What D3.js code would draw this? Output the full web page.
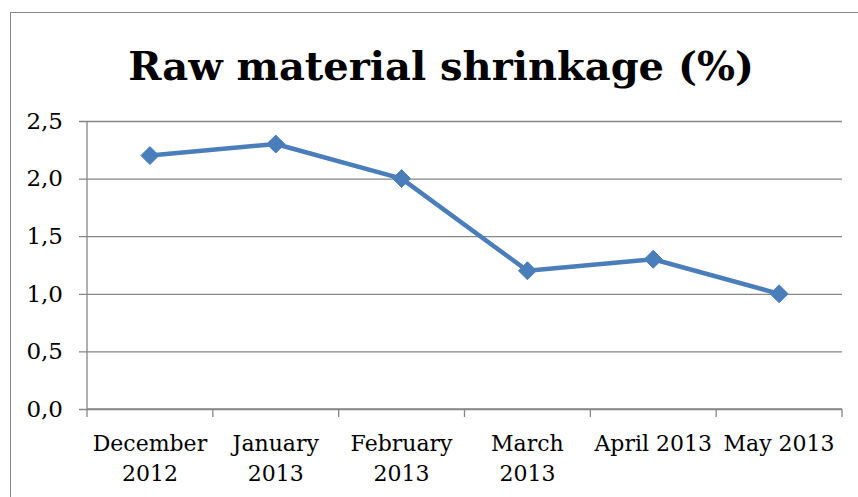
<!DOCTYPE html>
<html>
<head>
<meta charset="utf-8">
<script src="https://cdn.jsdelivr.net/npm/d3@7"></script>
<style>
  body { margin: 0; background: #fff; }
  svg { display: block; }
</style>
</head>
<body>
<svg id="chart" width="858" height="497"></svg>
<script>
// chart data
const months = ["December 2012", "January 2013", "February 2013", "March 2013", "April 2013", "May 2013"];
const shrinkage = [2.2, 2.3, 2.0, 1.2, 1.3, 1.0];
const yTicks = [0, 0.5, 1.0, 1.5, 2.0, 2.5];
const chartTitle = "Raw material shrinkage (%)";

const svg = d3.select("#chart");
const fontFamily = "'DejaVu Serif', 'Liberation Serif', serif";
const gridColor = "#868686";
const lineColor = "#4a7ebb";

// plot area
const plot = { left: 87, right: 842, top: 121, bottom: 409 };

// outer chart frame
svg.append("rect")
    .attr("x", 10.5).attr("y", 12.5)
    .attr("width", 860).attr("height", 500)
    .style("fill", "none")
    .style("stroke", gridColor)
    .style("stroke-width", 1);

const x = d3.scaleBand()
    .domain(months)
    .range([plot.left, plot.right])
    .paddingInner(0).paddingOuter(0);

const y = d3.scaleLinear()
    .domain([0, 2.5])
    .range([plot.bottom, plot.top]);

const fmt = v => d3.format(".1f")(v).replace(".", ",");

// horizontal gridlines + y axis
const yAxis = d3.axisLeft(y)
    .tickValues(yTicks)
    .tickFormat(fmt)
    .tickSize(-(plot.right - plot.left))
    .tickSizeOuter(0)
    .tickPadding(24);

const gy = svg.append("g")
    .attr("transform", `translate(${plot.left},0)`)
    .call(yAxis);
gy.select(".domain").remove();
gy.selectAll(".tick line")
    .attr("x1", -8)
    .style("stroke", gridColor)
    .style("stroke-width", 1.3);
gy.selectAll(".tick text")
    .style("font-family", fontFamily)
    .style("font-size", "23px")
    .style("fill", "#000");

// vertical axis line
svg.append("line")
    .attr("x1", plot.left).attr("x2", plot.left)
    .attr("y1", plot.top).attr("y2", plot.bottom)
    .style("stroke", gridColor)
    .style("stroke-width", 1.3);

// x axis with ticks between categories
const bounds = months.map(m => x(m)).concat([plot.right]);
const gx = svg.append("g");
gx.append("line")
    .attr("x1", plot.left).attr("x2", plot.right)
    .attr("y1", plot.bottom).attr("y2", plot.bottom)
    .style("stroke", gridColor)
    .style("stroke-width", 1.3);
gx.selectAll("line.tick")
    .data(bounds)
    .enter()
    .append("line")
    .attr("class", "tick")
    .attr("x1", d => d).attr("x2", d => d)
    .attr("y1", plot.bottom).attr("y2", plot.bottom + 8)
    .style("stroke", gridColor)
    .style("stroke-width", 1.3);

// category labels, wrapped like the original
const wrapLabel = m => {
    if (m === "April 2013" || m === "May 2013") return [m];
    return m.split(" ");
};
const labels = svg.append("g").selectAll("text")
    .data(months)
    .enter()
    .append("text")
    .attr("x", d => x(d) + x.bandwidth() / 2)
    .attr("y", 451)
    .attr("text-anchor", "middle")
    .style("font-family", fontFamily)
    .style("font-size", "22px")
    .style("fill", "#000");
labels.each(function (d) {
    const t = d3.select(this);
    wrapLabel(d).forEach((part, i) => {
        t.append("tspan")
            .attr("x", x(d) + x.bandwidth() / 2)
            .attr("dy", i === 0 ? 0 : 30)
            .text(part);
    });
});

// series line
const line = d3.line()
    .x((d, i) => x(months[i]) + x.bandwidth() / 2)
    .y(d => y(d));

svg.append("path")
    .datum(shrinkage)
    .attr("d", line)
    .style("fill", "none")
    .style("stroke", lineColor)
    .style("stroke-width", 4.5)
    .style("stroke-linejoin", "round");

// diamond markers
svg.append("g").selectAll("path")
    .data(shrinkage)
    .enter()
    .append("path")
    .attr("transform", (d, i) => `translate(${x(months[i]) + x.bandwidth() / 2},${y(d)})`)
    .attr("d", "M0,-9L9,0L0,9L-9,0Z")
    .style("fill", lineColor)
    .style("stroke", lineColor)
    .style("stroke-width", 1);

// title
svg.append("text")
    .attr("x", 441)
    .attr("y", 80)
    .attr("text-anchor", "middle")
    .style("font-family", fontFamily)
    .style("font-weight", "bold")
    .style("font-size", "40px")
    .style("fill", "#000")
    .text(chartTitle);
</script>
</body>
</html>
